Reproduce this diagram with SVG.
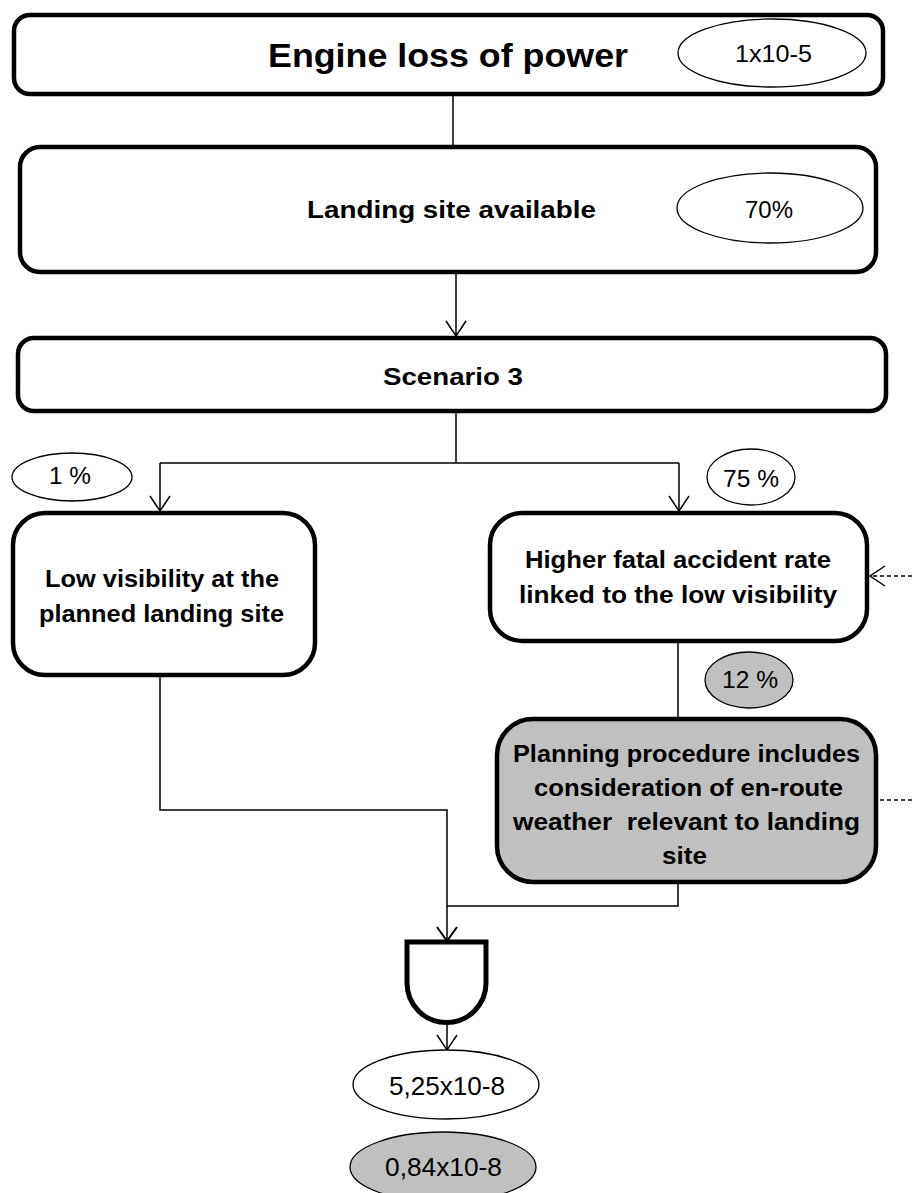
<svg xmlns="http://www.w3.org/2000/svg" width="912" height="1193" viewBox="0 0 912 1193">
<style>
.box{fill:#fff;stroke:#000;stroke-width:4.5}
.ell{fill:#fff;stroke:#000;stroke-width:1.3}
.gray{fill:#c0c0c0}
.b{font-family:"Liberation Sans",Arial,sans-serif;font-weight:bold;fill:#000}
.r{font-family:"Liberation Sans",Arial,sans-serif;fill:#000}
.ln{fill:none;stroke:#000;stroke-width:1.5}
.dash{fill:none;stroke:#000;stroke-width:1.3;stroke-dasharray:4 3}
</style>
<defs>
<marker id="arr" markerUnits="userSpaceOnUse" markerWidth="20" markerHeight="24" refX="15" refY="10" orient="auto" overflow="visible">
<path d="M0,0 L15,10 L0,20" fill="none" stroke="#000" stroke-width="1.5"/>
</marker>
<marker id="arr2" markerUnits="userSpaceOnUse" markerWidth="20" markerHeight="24" refX="14" refY="10" orient="auto" overflow="visible">
<path d="M0,0 L14,10 L0,20" fill="none" stroke="#000" stroke-width="2"/>
</marker>
</defs>
<g id="connectors">
<path class="ln" d="M453,94 V147"/>
<path class="ln" d="M456,272 V336" marker-end="url(#arr)"/>
<path class="ln" d="M456,411 V463 M160,463 H679"/>
<path class="ln" d="M160,463 V511" marker-end="url(#arr)"/>
<path class="ln" d="M679,463 V511" marker-end="url(#arr)"/>
<path class="ln" d="M678,641 V719"/>
<path class="ln" d="M160,675 V810 H447 V906"/>
<path class="ln" d="M678,882 V906 H447"/>
<path class="ln" d="M447,906 V941" stroke-width="2.2" marker-end="url(#arr2)"/>
<path class="ln" d="M447,1022 V1050" marker-end="url(#arr)"/>
<path class="dash" d="M912,576 H870" marker-end="url(#arr)"/>
<path class="dash" d="M912,800 H878"/>
</g>
<g id="engine">
<rect class="box" x="14" y="15" width="869" height="79" rx="16"/>
<text class="b" x="268" y="67" font-size="34" textLength="360" lengthAdjust="spacingAndGlyphs">Engine loss of power</text>
<ellipse class="ell" cx="772" cy="53" rx="94" ry="34"/>
<text class="r" x="735" y="62" font-size="24" textLength="77" lengthAdjust="spacingAndGlyphs">1x10-5</text>
</g>
<g id="landing">
<rect class="box" x="20" y="147" width="856" height="125" rx="20"/>
<text class="b" x="307" y="218" font-size="24" textLength="289" lengthAdjust="spacingAndGlyphs">Landing site available</text>
<ellipse class="ell" cx="770" cy="208" rx="93" ry="35"/>
<text class="r" x="745" y="218" font-size="24" textLength="48" lengthAdjust="spacingAndGlyphs">70%</text>
</g>
<g id="scenario">
<rect class="box" x="18" y="338" width="868" height="73" rx="16"/>
<text class="b" x="383" y="385" font-size="23" textLength="140" lengthAdjust="spacingAndGlyphs">Scenario 3</text>
</g>
<g id="p1">
<ellipse class="ell" cx="72" cy="477" rx="60" ry="24"/>
<text class="r" x="49" y="484" font-size="24" textLength="42" lengthAdjust="spacingAndGlyphs">1 %</text>
</g>
<g id="p75">
<ellipse class="ell" cx="751" cy="477" rx="44" ry="28"/>
<text class="r" x="723" y="487" font-size="24" textLength="56" lengthAdjust="spacingAndGlyphs">75 %</text>
</g>
<g id="lowvis">
<rect class="box" x="13" y="513" width="302" height="162" rx="32"/>
<text class="b" x="45" y="587" font-size="24" textLength="234" lengthAdjust="spacingAndGlyphs">Low visibility at the</text>
<text class="b" x="39" y="622" font-size="24" textLength="245" lengthAdjust="spacingAndGlyphs">planned landing site</text>
</g>
<g id="higher">
<rect class="box" x="490" y="513" width="377" height="128" rx="32"/>
<text class="b" x="525" y="568" font-size="24" textLength="306" lengthAdjust="spacingAndGlyphs">Higher fatal accident rate</text>
<text class="b" x="519" y="603" font-size="24" textLength="318" lengthAdjust="spacingAndGlyphs">linked to the low visibility</text>
</g>
<g id="p12">
<ellipse class="ell gray" cx="749" cy="680" rx="44" ry="28"/>
<text class="r" x="722" y="688" font-size="24" textLength="56" lengthAdjust="spacingAndGlyphs">12 %</text>
</g>
<g id="planning">
<rect class="box gray" x="497" y="719" width="379" height="163" rx="36"/>
<text class="b" x="513" y="762" font-size="24" textLength="347" lengthAdjust="spacingAndGlyphs">Planning procedure includes</text>
<text class="b" x="534" y="796" font-size="24" textLength="309" lengthAdjust="spacingAndGlyphs">consideration of en-route</text>
<text class="b" x="513" y="830" font-size="24" textLength="347" lengthAdjust="spacingAndGlyphs" style="white-space:pre">weather  relevant to landing</text>
<text class="b" x="662" y="864" font-size="24" textLength="45" lengthAdjust="spacingAndGlyphs">site</text>
</g>
<g id="and-gate">
<path d="M407,942 H486 V983 A39.5,39.5 0 0 1 407,983 Z" fill="#fff" stroke="#000" stroke-width="5"/>
</g>
<g id="result1">
<ellipse class="ell" cx="446" cy="1084.5" rx="93" ry="34.5"/>
<text class="r" x="389" y="1095" font-size="25" textLength="116" lengthAdjust="spacingAndGlyphs">5,25x10-8</text>
</g>
<g id="result2">
<ellipse class="ell gray" cx="443" cy="1167" rx="93" ry="35"/>
<text class="r" x="385" y="1176" font-size="25" textLength="117" lengthAdjust="spacingAndGlyphs">0,84x10-8</text>
</g>
</svg>
